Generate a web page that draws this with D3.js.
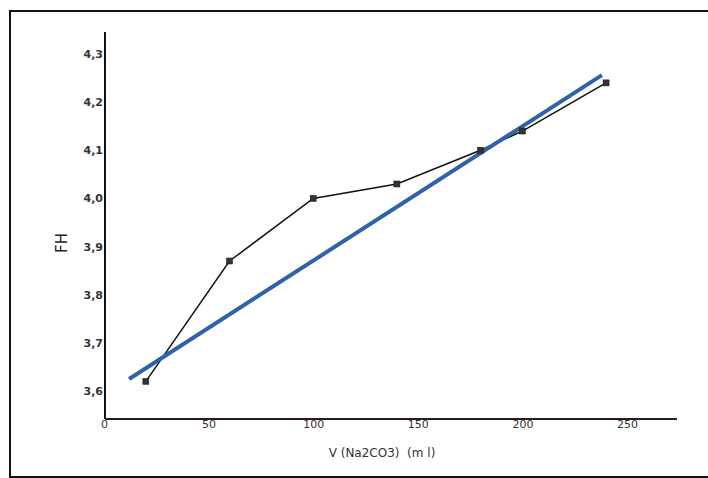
<!DOCTYPE html>
<html><head><meta charset="utf-8">
<script src="https://cdn.jsdelivr.net/npm/d3@7"></script>
<style>body{margin:0;background:#fff}svg{display:block}</style>
</head><body>
<svg id="c" width="708" height="478"></svg>
<script>
const volumes = [20, 60, 100, 140, 180, 200, 240];
const phValues = [3.62, 3.87, 4.00, 4.03, 4.10, 4.14, 4.24];
const trendX = [12, 238];
const trendY = [3.625, 4.256];
const xTicks = [0, 50, 100, 150, 200, 250];
const yTicks = [3.6, 3.7, 3.8, 3.9, 4.0, 4.1, 4.2, 4.3];

const svg = d3.select("#c");
const x = d3.scaleLinear().domain([0, 250]).range([104, 627]);
const y = d3.scaleLinear().domain([3.6, 4.3]).range([391, 54]);
const x0 = 105, yBottom = 419, yTop = 32, xRight = 677;

// frame
svg.append("rect").attr("x", 10).attr("y", 11).attr("width", 720).attr("height", 466)
  .attr("fill", "none").attr("stroke", "#111").attr("stroke-width", 2);

// axes lines
svg.append("line").attr("x1", x0).attr("x2", x0).attr("y1", yTop).attr("y2", yBottom)
  .attr("stroke", "#111").attr("stroke-width", 2);
svg.append("line").attr("x1", x0).attr("x2", xRight).attr("y1", yBottom).attr("y2", yBottom)
  .attr("stroke", "#2a1a1a").attr("stroke-width", 2);

const fmt = d => d3.format(".1f")(d).replace(".", ",");
const yAxis = d3.axisLeft(y).tickValues(yTicks).tickSize(0).tickPadding(2).tickFormat(fmt);
const gy = svg.append("g").attr("transform", `translate(${x0},0)`).call(yAxis);
gy.select(".domain").remove();
gy.selectAll("text").attr("font-family", "DejaVu Sans, Verdana, sans-serif").attr("font-size", 11)
  .attr("font-weight", "bold").attr("fill", "#333");

const xAxis = d3.axisBottom(x).tickValues(xTicks).tickSize(0).tickPadding(1);
const gx = svg.append("g").attr("transform", `translate(0,${yBottom})`).call(xAxis);
gx.select(".domain").remove();
gx.selectAll("text").attr("font-family", "DejaVu Sans, Verdana, sans-serif").attr("font-size", 11).attr("fill", "#333");

// axis titles
svg.append("text").attr("transform", "translate(67,243) rotate(-90)").attr("text-anchor", "middle")
  .attr("font-family", "DejaVu Sans, Verdana, sans-serif").attr("font-size", 15).attr("fill", "#222").text("FH");
svg.append("text").attr("x", 382).attr("y", 457).attr("text-anchor", "middle")
  .attr("font-family", "DejaVu Sans, Verdana, sans-serif").attr("font-size", 12).attr("fill", "#333")
  .attr("xml:space", "preserve").text("V (Na2CO3)  (m l)");

// data line
const pts = volumes.map((v, i) => [v, phValues[i]]);
svg.append("path").datum(pts)
  .attr("d", d3.line().x(d => x(d[0])).y(d => y(d[1])))
  .attr("fill", "none").attr("stroke", "#111").attr("stroke-width", 1.5);

// trend line
const tr = trendX.map((v, i) => [v, trendY[i]]);
svg.append("path").datum(tr)
  .attr("d", d3.line().x(d => x(d[0])).y(d => y(d[1])))
  .attr("fill", "none").attr("stroke", "#2f62a6").attr("stroke-width", 4);

// markers
svg.selectAll("rect.m").data(pts).enter().append("rect").attr("class", "m")
  .attr("x", d => x(d[0]) - 3).attr("y", d => y(d[1]) - 3).attr("width", 6).attr("height", 6)
  .attr("fill", "#333").attr("stroke", "#111").attr("stroke-width", 0.5);
</script>
</body></html>
